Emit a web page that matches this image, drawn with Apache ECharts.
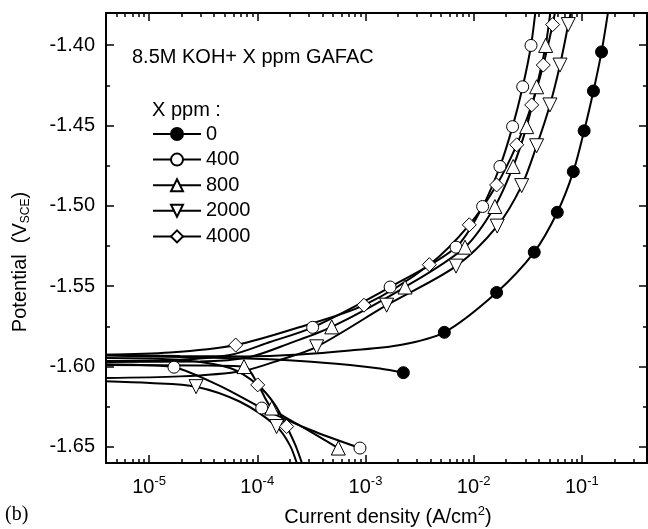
<!DOCTYPE html>
<html><head><meta charset="utf-8">
<script src="https://cdn.jsdelivr.net/npm/echarts@6/dist/echarts.min.js"></script>
<style>html,body{margin:0;padding:0;background:#fff}#c{width:648px;height:529px}</style>
</head><body><div id="c"></div>
<script>
// ---- data: [current density (A/cm2), potential (V vs SCE), marker shown 1/0] ----
const seriesNames = ['0', '400', '800', '2000', '4000'];

const cath0 = [[3.0e-6,-1.5930,0],[1.93e-5,-1.5940,0],[8.04e-5,-1.5950,0],[2.48e-4,-1.5965,0],[7.19e-4,-1.5990,0],[1.36e-3,-1.6012,0],[2.24e-3,-1.6038,1]];
const anod0 = [[3.0e-6,-1.5925,0],[1.93e-5,-1.5934,0],[8.04e-5,-1.5937,0],[2.48e-4,-1.5925,0],[7.19e-4,-1.5900,0],[2.09e-3,-1.5866,0],[5.36e-3,-1.5787,1],[1.63e-2,-1.5539,1],[3.63e-2,-1.5288,1],[5.93e-2,-1.5040,1],[8.34e-2,-1.4787,1],[0.105,-1.4533,1],[0.128,-1.4285,1],[0.152,-1.4042,1],[0.178,-1.3758,0]];

const cath400 = [[3.0e-6,-1.5984,0],[8.24e-6,-1.5990,0],[1.70e-5,-1.6004,1],[4.52e-5,-1.6120,0],[1.10e-4,-1.6258,1],[3.07e-4,-1.6393,0],[8.90e-4,-1.6507,1]];
const anod400 = [[3.0e-6,-1.5965,0],[1.70e-5,-1.5959,0],[5.60e-5,-1.5928,0],[1.31e-4,-1.5847,0],[3.25e-4,-1.5756,1],[1.69e-3,-1.5505,1],[6.87e-3,-1.5257,1],[1.21e-2,-1.5004,1],[1.75e-2,-1.4755,1],[2.29e-2,-1.4507,1],[2.84e-2,-1.4259,1],[3.39e-2,-1.4002,1],[3.77e-2,-1.3758,0]];

const cath800 = [[3.0e-6,-1.5990,0],[2.96e-5,-1.5993,0],[7.54e-5,-1.6000,1],[1.02e-4,-1.6114,0],[1.36e-4,-1.6258,1],[2.76e-4,-1.6384,0],[5.61e-4,-1.6507,1]];
const anod800 = [[3.0e-6,-1.5971,0],[2.96e-5,-1.5968,0],[8.57e-5,-1.5940,0],[2.01e-4,-1.5854,0],[4.88e-4,-1.5753,1],[2.32e-3,-1.5505,1],[8.32e-3,-1.5257,1],[1.57e-2,-1.5004,1],[2.32e-2,-1.4755,1],[3.09e-2,-1.4507,1],[3.82e-2,-1.4259,1],[4.63e-2,-1.4002,1],[5.19e-2,-1.3758,0]];

const cath2000 = [[3.0e-6,-1.6089,0],[1.02e-5,-1.6102,0],[2.72e-5,-1.6125,1],[6.93e-5,-1.6219,0],[1.51e-4,-1.6373,1],[2.01e-4,-1.6492,0],[2.38e-4,-1.6622,1],[2.60e-4,-1.6703,0]];
const anod2000 = [[3.0e-6,-1.6071,0],[1.93e-5,-1.6061,0],[7.38e-5,-1.6027,0],[1.62e-4,-1.5959,0],[3.54e-4,-1.5877,1],[1.57e-3,-1.5618,1],[6.87e-3,-1.5375,1],[1.65e-2,-1.5126,1],[2.78e-2,-1.4874,1],[3.82e-2,-1.4626,1],[5.07e-2,-1.4372,1],[6.28e-2,-1.4124,1],[7.49e-2,-1.3872,1],[8.11e-2,-1.3758,0]];

const cath4000 = [[3.0e-6,-1.5947,0],[1.93e-5,-1.5959,0],[5.60e-5,-1.6009,0],[1.01e-4,-1.6114,1],[1.46e-4,-1.6238,0],[1.87e-4,-1.6373,1],[2.28e-4,-1.6498,0],[2.65e-4,-1.6622,1],[2.88e-4,-1.6703,0]];
const anod4000 = [[3.0e-6,-1.5928,0],[1.56e-5,-1.5913,0],[6.32e-5,-1.5866,1],[2.48e-4,-1.5754,0],[9.69e-4,-1.5618,1],[3.89e-3,-1.5366,1],[9.11e-3,-1.5118,1],[1.63e-2,-1.4870,1],[2.50e-2,-1.4620,1],[3.44e-2,-1.4372,1],[4.40e-2,-1.4124,1],[5.37e-2,-1.3872,1],[5.77e-2,-1.3758,0]];

const xMajorTicks = [1e-5, 1e-4, 1e-3, 1e-2, 1e-1];
const xMinorTicks = [5e-6,6e-6,7e-6,8e-6,9e-6, 2e-5,3e-5,4e-5,5e-5,6e-5,7e-5,8e-5,9e-5, 2e-4,3e-4,4e-4,5e-4,6e-4,7e-4,8e-4,9e-4, 2e-3,3e-3,4e-3,5e-3,6e-3,7e-3,8e-3,9e-3, 2e-2,3e-2,4e-2,5e-2,6e-2,7e-2,8e-2,9e-2, 2e-1,3e-1];
const yMajorTicks = [-1.65, -1.60, -1.55, -1.50, -1.45, -1.40];
const yMinorTicks = [-1.625, -1.575, -1.525, -1.475, -1.425];

// ---- styles ----
const FONT = "'Liberation Sans', Arial, sans-serif";
const styles = {
  '0':    {symbol: 'circle',  size: 12, fill: '#000'},
  '400':  {symbol: 'circle',  size: 12, fill: '#fff'},
  '800':  {symbol: 'triangle', size: 14, fill: '#fff'},
  '2000': {symbol: 'path://M0,0L10,0L5,9Z', size: 14, fill: '#fff'},
  '4000': {symbol: 'diamond', size: 14, fill: '#fff'}
};
const branches = {
  '0': [cath0, anod0], '400': [cath400, anod400], '800': [cath800, anod800],
  '2000': [cath2000, anod2000], '4000': [cath4000, anod4000]
};

const series = [];
seriesNames.forEach(function (name) {
  const st = styles[name];
  branches[name].forEach(function (br) {
    series.push({
      type: 'line', name: name, data: br.map(p => [p[0], p[1]]),
      smooth: 0.3, showSymbol: false, symbol: st.symbol, symbolSize: st.size,
      itemStyle: {color: st.fill, borderColor: '#000', borderWidth: 1},
      lineStyle: {color: '#000', width: 2}, z: 2, silent: true,
      emphasis: {disabled: true}
    });
  });
});
seriesNames.forEach(function (name) {
  const st = styles[name];
  const pts = branches[name][0].concat(branches[name][1]).filter(p => p[2] === 1).map(p => [p[0], p[1]]);
  series.push({
    type: 'scatter', name: name, data: pts, symbol: st.symbol, symbolSize: st.size,
    itemStyle: {color: st.fill, borderColor: '#000', borderWidth: 1, opacity: 1},
    z: 5, silent: true, emphasis: {disabled: true}
  });
});

function xAxisDef(pos, ticks, len, showLine, showLabel) {
  return {
    type: 'log', logBase: 10, position: pos, min: 4e-6, max: 0.4,
    axisLine: {show: showLine, onZero: false, lineStyle: {color: '#000', width: 2}},
    axisTick: {show: true, inside: true, length: len, customValues: ticks, lineStyle: {color: '#000', width: 1.5}},
    axisLabel: showLabel ? {
      show: true, customValues: xMajorTicks, margin: 12,
      formatter: function (v) { return '{b|10}{s|' + Math.round(Math.log10(v)) + '}'; },
      rich: {
        b: {fontSize: 20, fontFamily: FONT, color: '#000', lineHeight: 24},
        s: {fontSize: 13, fontFamily: FONT, color: '#000', lineHeight: 13, verticalAlign: 'top'}
      }
    } : {show: false},
    splitLine: {show: false}, minorTick: {show: false}
  };
}
function yAxisDef(pos, ticks, len, showLine, showLabel) {
  return {
    type: 'value', position: pos, min: -1.66, max: -1.38,
    axisLine: {show: showLine, onZero: false, lineStyle: {color: '#000', width: 2}},
    axisTick: {show: true, inside: true, length: len, customValues: ticks, lineStyle: {color: '#000', width: 1.5}},
    axisLabel: showLabel ? {
      show: true, customValues: yMajorTicks, margin: 11,
      formatter: function (v) { return v.toFixed(2); },
      fontSize: 20, fontFamily: FONT, color: '#000'
    } : {show: false},
    splitLine: {show: false}, minorTick: {show: false}
  };
}

const chart = echarts.init(document.getElementById('c'), null, {renderer: 'canvas'});
chart.setOption({
  animation: false,
  backgroundColor: '#fff',
  grid: {left: 106, right: 1, top: 13, bottom: 66, containLabel: false},
  xAxis: [
    xAxisDef('bottom', xMajorTicks, 8, true, true),
    xAxisDef('bottom', xMinorTicks, 4, false, false),
    xAxisDef('top', xMajorTicks, 8, true, false),
    xAxisDef('top', xMinorTicks, 4, false, false)
  ],
  yAxis: [
    yAxisDef('left', yMajorTicks, 8, true, true),
    yAxisDef('left', yMinorTicks, 4, false, false),
    yAxisDef('right', yMajorTicks, 8, true, false),
    yAxisDef('right', yMinorTicks, 4, false, false)
  ],
  legend: {
    data: seriesNames, orient: 'vertical', left: 152, top: 124, padding: 0,
    itemWidth: 48, itemHeight: 15, itemGap: 5.6, selectedMode: false,
    textStyle: {fontSize: 20, fontFamily: FONT, color: '#000', lineHeight: 20}
  },
  graphic: [
    {type: 'text', x: 132, y: 57, style: {text: '8.5M KOH+ X ppm GAFAC', fontSize: 20, fontFamily: FONT, fill: '#000', align: 'left', verticalAlign: 'middle'}},
    {type: 'text', x: 152, y: 110, style: {text: 'X ppm :', fontSize: 20, fontFamily: FONT, fill: '#000', align: 'left', verticalAlign: 'middle'}},
    {type: 'text', x: 20, y: 262, rotation: Math.PI / 2, style: {
      text: 'Potential  (V{sub|SCE})', fontSize: 20, fontFamily: FONT, fill: '#000', lineHeight: 24,
      align: 'center', verticalAlign: 'middle',
      rich: {sub: {fontSize: 12, fontFamily: FONT, fill: '#000', lineHeight: 12, verticalAlign: 'bottom'}}}},
    {type: 'text', x: 388, y: 517, style: {
      text: 'Current density (A/cm{sup|2})', fontSize: 20, fontFamily: FONT, fill: '#000', lineHeight: 24,
      align: 'center', verticalAlign: 'middle',
      rich: {sup: {fontSize: 13, fontFamily: FONT, fill: '#000', lineHeight: 13, verticalAlign: 'top'}}}},
    {type: 'text', x: 5, y: 515, style: {text: '(b)', fontSize: 20, fontFamily: "'Liberation Serif', 'Times New Roman', serif", fill: '#000', align: 'left', verticalAlign: 'middle'}}
  ],
  series: series
});
</script></body></html>
